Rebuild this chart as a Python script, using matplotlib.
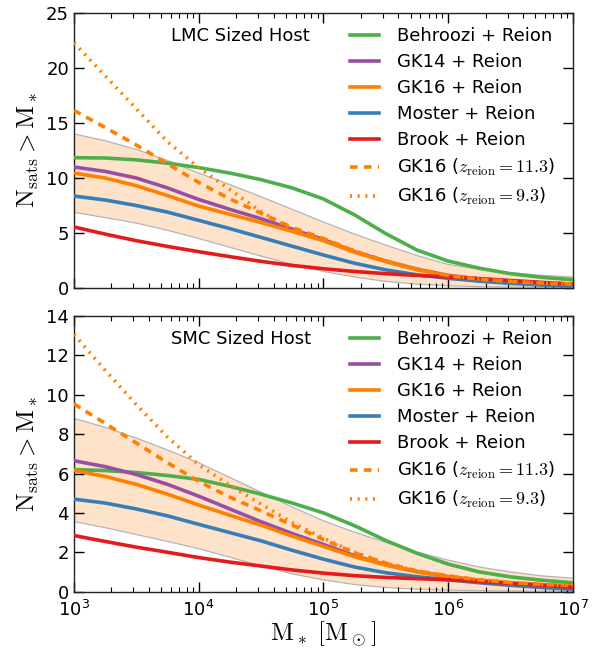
import numpy as np
import matplotlib
matplotlib.use("Agg")
import matplotlib.pyplot as plt

plt.rcParams['mathtext.fontset'] = 'cm'
plt.rcParams['font.family'] = ['DejaVu Sans']
plt.rcParams['lines.scale_dashes'] = False

# log10 stellar mass grid
log_mstar = [3.0, 3.25, 3.5, 3.75, 4.0, 4.25, 4.5, 4.75, 5.0, 5.25, 5.5, 5.75, 6.0, 6.25, 6.5, 6.75, 7.0]

# ---------------- LMC sized host ----------------
lmc_behroozi = [11.85, 11.82, 11.65, 11.35, 10.95, 10.45, 9.85, 9.1, 8.1, 6.65, 4.95, 3.45, 2.45, 1.8, 1.3, 0.97, 0.75]
lmc_gk14     = [11.0, 10.6, 10.0, 9.1, 8.05, 7.15, 6.3, 5.35, 4.4, 3.3, 2.45, 1.7, 1.15, 0.82, 0.6, 0.46, 0.36]
lmc_gk16     = [10.45, 10.0, 9.3, 8.4, 7.45, 6.7, 5.95, 5.15, 4.3, 3.25, 2.4, 1.65, 1.1, 0.78, 0.56, 0.43, 0.34]
lmc_moster   = [8.36, 8.0, 7.5, 6.9, 6.15, 5.4, 4.6, 3.8, 3.0, 2.25, 1.65, 1.2, 0.88, 0.62, 0.42, 0.27, 0.15]
lmc_brook    = [5.55, 4.9, 4.3, 3.78, 3.3, 2.85, 2.42, 2.05, 1.75, 1.5, 1.3, 1.14, 1.0, 0.85, 0.68, 0.51, 0.34]
lmc_gk16_z113 = [16.15, 14.6, 13.0, 11.3, 9.6, 8.1, 6.8, 5.5, 4.5, 3.35, 2.45, 1.72, 1.12, 0.8, 0.6, 0.45, 0.36]
lmc_gk16_z93  = [22.3, 19.3, 16.3, 13.3, 10.95, 8.95, 6.95, 5.3, 4.45, 3.4, 2.45, 1.72, 1.12, 0.8, 0.6, 0.45, 0.36]
lmc_band_hi  = [14.0, 13.4, 12.6, 11.6, 10.45, 9.4, 8.3, 7.15, 6.0, 4.9, 3.9, 2.95, 2.15, 1.7, 1.4, 1.15, 1.0]
lmc_band_lo  = [6.88, 6.4, 5.9, 5.25, 4.5, 3.7, 2.9, 2.15, 1.5, 1.0, 0.6, 0.35, 0.2, 0.12, 0.08, 0.05, 0.03]

# ---------------- SMC sized host ----------------
smc_behroozi = [6.2, 6.15, 6.05, 5.9, 5.7, 5.35, 4.95, 4.5, 4.0, 3.35, 2.6, 1.95, 1.4, 1.0, 0.75, 0.58, 0.45]
smc_gk14     = [6.65, 6.35, 5.95, 5.45, 4.85, 4.2, 3.55, 2.95, 2.4, 1.82, 1.37, 1.02, 0.76, 0.56, 0.43, 0.34, 0.28]
smc_gk16     = [6.16, 5.85, 5.45, 4.95, 4.4, 3.88, 3.38, 2.82, 2.3, 1.77, 1.35, 1.0, 0.76, 0.57, 0.44, 0.35, 0.29]
smc_moster   = [4.7, 4.5, 4.2, 3.85, 3.42, 3.0, 2.58, 2.1, 1.65, 1.25, 0.96, 0.76, 0.6, 0.45, 0.32, 0.21, 0.12]
smc_brook    = [2.85, 2.55, 2.26, 2.0, 1.73, 1.5, 1.3, 1.1, 0.94, 0.81, 0.72, 0.66, 0.6, 0.52, 0.42, 0.32, 0.22]
smc_gk16_z113 = [9.54, 8.55, 7.55, 6.55, 5.6, 4.8, 4.1, 3.38, 2.65, 1.97, 1.45, 1.05, 0.8, 0.6, 0.46, 0.37, 0.3]
smc_gk16_z93  = [13.07, 11.25, 9.5, 7.85, 6.45, 5.4, 4.45, 3.5, 2.72, 2.0, 1.45, 1.05, 0.8, 0.6, 0.46, 0.37, 0.3]
smc_band_hi  = [8.8, 8.35, 7.8, 7.2, 6.55, 5.8, 5.05, 4.3, 3.6, 3.02, 2.5, 2.02, 1.6, 1.25, 1.0, 0.8, 0.68]
smc_band_lo  = [3.56, 3.25, 2.9, 2.55, 2.18, 1.75, 1.3, 0.9, 0.6, 0.36, 0.21, 0.12, 0.07, 0.05, 0.03, 0.02, 0.02]

labels = ['Behroozi + Reion', 'GK14 + Reion', 'GK16 + Reion', 'Moster + Reion', 'Brook + Reion',
          r'GK16 ($z_{\rm reion}=11.3$)', r'GK16 ($z_{\rm reion}=9.3$)']
colors = ['#4daf4a', '#984ea3', '#ff7f00', '#377eb8', '#e41a1c', '#ff7f00', '#ff7f00']
host_titles = ['LMC Sized Host', 'SMC Sized Host']
ylims = [25, 14]
yticks = [np.arange(0, 26, 5), np.arange(0, 15, 2)]

panels = [
    [lmc_behroozi, lmc_gk14, lmc_gk16, lmc_moster, lmc_brook, lmc_gk16_z113, lmc_gk16_z93, lmc_band_lo, lmc_band_hi],
    [smc_behroozi, smc_gk14, smc_gk16, smc_moster, smc_brook, smc_gk16_z113, smc_gk16_z93, smc_band_lo, smc_band_hi],
]

mstar = 10.0 ** np.array(log_mstar)

fig = plt.figure(figsize=(6.01, 6.53), dpi=100)
ax_top = fig.add_axes([0.123, 0.559, 0.830, 0.421])
ax_bot = fig.add_axes([0.123, 0.094, 0.830, 0.422])
axes = [ax_top, ax_bot]

for i, ax in enumerate(axes):
    d = panels[i]
    ax.fill_between(mstar, d[7], d[8], facecolor='#ff7f0e', alpha=0.22, edgecolor='none', zorder=1)
    ax.plot(mstar, d[7], color='#b5b5b5', lw=0.9, zorder=1.5)
    ax.plot(mstar, d[8], color='#b5b5b5', lw=0.9, zorder=1.5)
    lw = 2.6
    for j in range(5):
        ax.plot(mstar, d[j], color=colors[j], lw=lw, label=labels[j], zorder=3)
    ax.plot(mstar, d[5], color=colors[5], lw=lw, dashes=(5.5, 4.5), label=labels[5], zorder=3)
    ax.plot(mstar, d[6], color=colors[6], lw=lw, dashes=(1.5, 4.0), label=labels[6], zorder=3)

    ax.set_xscale('log')
    ax.set_xlim(1e3, 1e7)
    ax.set_ylim(0, ylims[i])
    ax.set_yticks(yticks[i])
    ax.tick_params(which='both', direction='in', top=True, right=True, labelsize=13)
    ax.tick_params(which='major', length=7, width=1)
    ax.tick_params(which='minor', length=3.5, width=0.8)
    ax.tick_params(axis='x', pad=6)
    ax.set_ylabel(r'$\mathrm{N_{sats} > M_*}$', fontsize=18, labelpad=4)
    ax.text(0.195, 0.915, host_titles[i], transform=ax.transAxes, fontsize=13, ha='left', va='center')
    ax.legend(loc='upper left', bbox_to_anchor=(0.553, 0.948), frameon=False, fontsize=13,
              handlelength=1.6, handletextpad=1.0, labelspacing=0.44, borderpad=0, borderaxespad=0)
    for sp in ax.spines.values():
        sp.set_linewidth(1.0)
        sp.set_color('#222222')

ax_top.tick_params(labelbottom=False)
ax_bot.set_xlabel(r'$\mathrm{M_*\ [M_\odot]}$', fontsize=18, labelpad=0)

fig.savefig('out.png', dpi=100)
